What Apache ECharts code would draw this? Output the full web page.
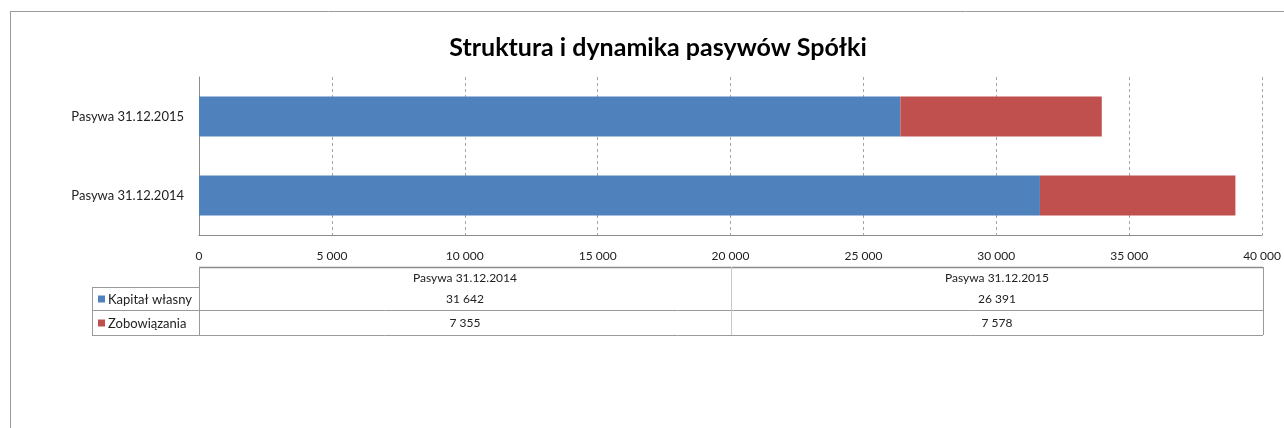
<!DOCTYPE html>
<html>
<head>
<meta charset="utf-8">
<script src="https://cdn.jsdelivr.net/npm/echarts@6/dist/echarts.min.js"></script>
<style>
  html, body { margin: 0; padding: 0; background: #fff; }
  #chart { width: 1284px; height: 428px; }
</style>
</head>
<body>
<div id="chart"></div>
<script>
const categories = ['Pasywa 31.12.2014', 'Pasywa 31.12.2015']
const seriesNames = ['Kapitał własny', 'Zobowiązania']
const kapital = [31642, 26391]
const zobowiazania = [7355, 7578]
const xTicks = { min: 0, max: 40000, step: 5000 }

const colors = ['#4F81BD', '#C0504D']
const font = 'Lato, "Open Sans", sans-serif'
const fmt = (v) => String(v).replace(/\B(?=(\d{3})+(?!\d))/g, ' ')

// plot area (px)
const L = 199, R = 1263, T = 77, B = 235
// data table rows
const tTop = 267, tHead = 287, tMid = 310, tBot = 335, legL = 92
const colMid = (L + R) / 2

const chart = echarts.init(document.getElementById('chart'))

const graphics = []
const line = (x1, y1, x2, y2, color, w) => graphics.push({
  type: 'line', silent: true,
  shape: { x1, y1, x2, y2 },
  style: { stroke: color || '#8C8C8C', lineWidth: w || 1 }
})
const text = (x, y, t, align, size) => graphics.push({
  type: 'text', silent: true, x, y,
  style: { text: t, fill: '#222', font: (size || 12) + 'px ' + font, align: align || 'center', verticalAlign: 'middle' }
})

// outer frame
line(10, 11.5, 1284, 11.5, '#9A9A9A')
line(10.5, 11, 10.5, 428, '#9A9A9A')

// table borders
line(L, tTop + 0.5, R, tTop + 0.5, '#8C8C8C', 1.5)
line(legL, tHead + 0.5, L, tHead + 0.5, '#9A9A9A')
line(legL, tMid + 0.5, R, tMid + 0.5, '#9A9A9A')
line(legL, tBot + 0.5, R, tBot + 0.5, '#9A9A9A')
line(legL + 0.5, tHead, legL + 0.5, tBot, '#9A9A9A')
line(L + 0.5, tTop, L + 0.5, tBot, '#9A9A9A')
line(colMid + 0.5, tTop, colMid + 0.5, tBot, '#C8C8C8')
line(R + 0.5, tTop, R + 0.5, tBot, '#9A9A9A')

// table header + values
const colCenters = [(L + colMid) / 2, (colMid + R) / 2]
categories.forEach((c, i) => text(colCenters[i], (tTop + tHead) / 2 + 1, c))
const rows = [kapital, zobowiazania]
const rowY = [(tHead + tMid) / 2 + 1, (tMid + tBot) / 2 + 1]
rows.forEach((vals, r) => {
  vals.forEach((v, i) => text(colCenters[i], rowY[r], fmt(v)))
  graphics.push({
    type: 'rect', silent: true,
    shape: { x: 98, y: rowY[r] - 4, width: 7, height: 7 },
    style: { fill: colors[r] }
  })
  text(108, rowY[r], seriesNames[r], 'left', 13)
})

const option = {
  animation: false,
  color: colors,
  title: {
    text: 'Struktura i dynamika pasywów Spółki',
    left: 653,
    top: 30,
    textAlign: 'center',
    textStyle: { fontFamily: font, fontSize: 25, fontWeight: 'bold', color: '#000' }
  },
  grid: { left: L, right: 1284 - R, top: T, bottom: 428 - B, containLabel: false },
  xAxis: {
    type: 'value',
    min: xTicks.min,
    max: xTicks.max,
    interval: xTicks.step,
    axisLine: { show: true, lineStyle: { color: '#8C8C8C' } },
    axisTick: { show: false },
    axisLabel: { fontFamily: font, fontSize: 12, color: '#222', margin: 15, formatter: fmt },
    splitLine: { show: true, lineStyle: { color: '#A6A6A6', type: [3, 3] } }
  },
  yAxis: {
    type: 'category',
    data: categories,
    axisLine: { show: true, lineStyle: { color: '#8C8C8C' } },
    axisTick: { show: false },
    axisLabel: { fontFamily: font, fontSize: 13, color: '#222', margin: 15 },
    splitLine: { show: false }
  },
  series: [
    { name: seriesNames[0], type: 'bar', stack: 'p', data: kapital, barWidth: 40 },
    { name: seriesNames[1], type: 'bar', stack: 'p', data: zobowiazania, barWidth: 40 }
  ],
  graphic: graphics
}

chart.setOption(option)
</script>
</body>
</html>
